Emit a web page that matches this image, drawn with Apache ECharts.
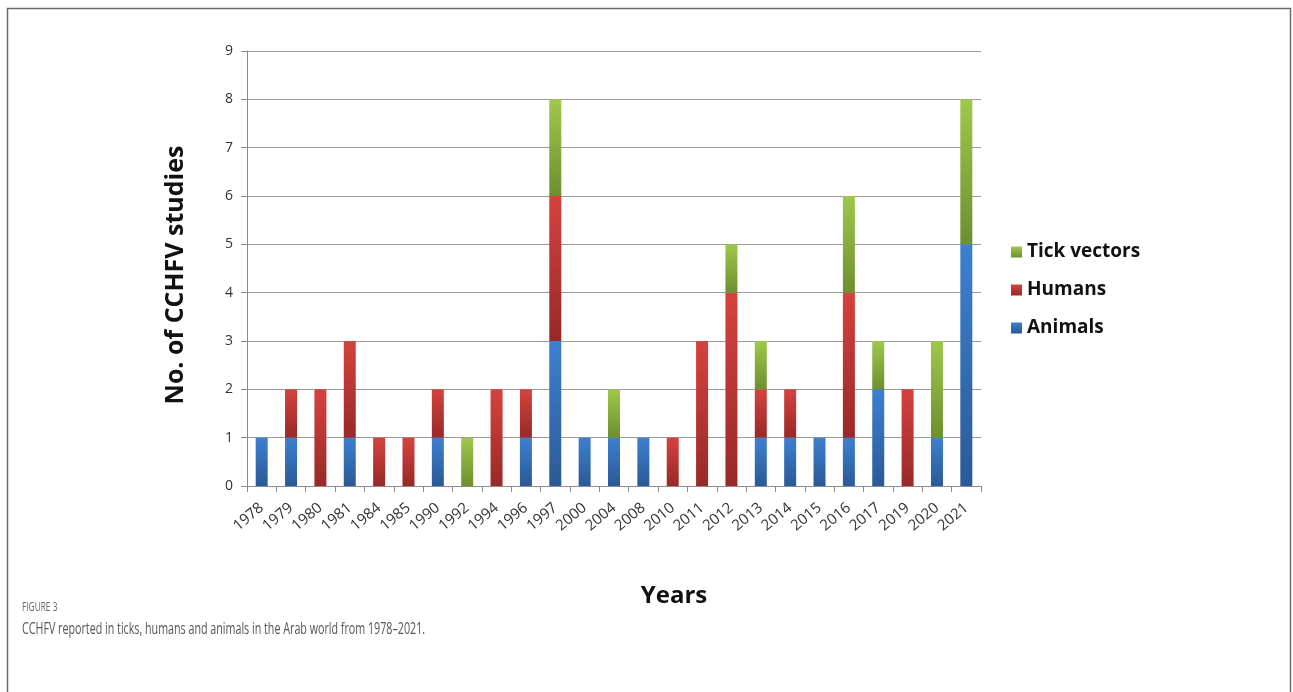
<!DOCTYPE html>
<html>
<head>
<meta charset="utf-8">
<script src="https://cdn.jsdelivr.net/npm/echarts@6/dist/echarts.min.js"></script>
<style>
  html, body { margin: 0; padding: 0; background: #fff; }
  #chart { width: 1293px; height: 692px; }
</style>
</head>
<body>
<div id="chart"></div>
<script>
// Study years and counts per source of CCHFV detection
const years = ['1978','1979','1980','1981','1984','1985','1990','1992','1994','1996','1997','2000','2004','2008','2010','2011','2012','2013','2014','2015','2016','2017','2019','2020','2021'];
const animals = [1,1,0,1,0,0,1,0,0,1,3,1,1,1,0,0,0,1,1,1,1,2,0,1,5];
const humans  = [0,1,2,2,1,1,1,0,2,1,3,0,0,0,1,3,4,1,1,0,3,0,2,0,0];
const ticks   = [0,0,0,0,0,0,0,1,0,0,2,0,1,0,0,0,1,1,0,0,2,1,0,2,3];
const yTicks  = [0,1,2,3,4,5,6,7,8,9];

function shade(top, bottom) {
  return new echarts.graphic.LinearGradient(0, 0, 0, 1, [
    { offset: 0, color: top },
    { offset: 1, color: bottom }
  ]);
}

function stackSeries(name, values, top, bottom) {
  return {
    name: name,
    type: 'bar',
    stack: 'total',
    barWidth: 12,
    data: values.map(v => v === 0 ? null : v),
    itemStyle: { color: shade(top, bottom) },
    emphasis: { disabled: true }
  };
}

const chart = echarts.init(document.getElementById('chart'), null, { renderer: 'canvas' });

chart.setOption({
  animation: false,
  backgroundColor: '#ffffff',
  grid: { left: 247, right: 312, top: 51, bottom: 206, containLabel: false },
  legend: {
    data: ['Tick vectors', 'Humans', 'Animals'],
    orient: 'vertical',
    left: 1006,
    top: 236,
    itemWidth: 11,
    itemHeight: 11,
    itemGap: 16,
    icon: 'rect',
    textStyle: { fontFamily: 'Open Sans', fontWeight: 'bold', fontSize: 19, color: '#111', lineHeight: 22 }
  },
  xAxis: {
    type: 'category',
    data: years,
    boundaryGap: true,
    axisLine: { lineStyle: { color: '#8c8c8c', width: 1 } },
    axisTick: { show: true, alignWithLabel: false, length: 6, lineStyle: { color: '#8c8c8c' } },
    axisLabel: {
      rotate: 40,
      interval: 0,
      margin: 20,
      fontFamily: 'Open Sans',
      fontSize: 15,
      color: '#333'
    }
  },
  yAxis: {
    type: 'value',
    min: 0,
    max: 9,
    interval: 1,
    axisLine: { show: true, lineStyle: { color: '#8c8c8c' } },
    axisTick: { show: true, inside: false, length: 6, lineStyle: { color: '#8c8c8c' } },
    splitLine: { lineStyle: { color: '#9a9a9a', width: 1 } },
    axisLabel: {
      margin: 14,
      fontFamily: 'Open Sans',
      fontSize: 14,
      color: '#333',
      formatter: v => yTicks.includes(v) ? String(v) : ''
    }
  },
  series: [
    stackSeries('Animals', animals, '#3d80d0', '#2a5a97'),
    stackSeries('Humans', humans, '#d6423e', '#982927'),
    stackSeries('Tick vectors', ticks, '#9fc84b', '#6d8f2e')
  ],
  graphic: [
    {
      type: 'rect',
      shape: { x: 7.5, y: 8.5, width: 1283, height: 720 },
      style: { fill: 'none', stroke: '#6a6a6a', lineWidth: 1.5 },
      silent: true
    },
    {
      type: 'text',
      x: 176, y: 275,
      rotation: Math.PI / 2,
      style: {
        text: 'No. of CCHFV studies',
        x: 0, y: 0,
        textAlign: 'center',
        textVerticalAlign: 'middle',
        font: 'bold 25px "Open Sans"',
        fill: '#111'
      }
    },
    {
      type: 'text',
      x: 674, y: 596,
      style: {
        text: 'Years',
        x: 0, y: 0,
        textAlign: 'center',
        textVerticalAlign: 'middle',
        font: 'bold 24px "Open Sans"',
        fill: '#111'
      }
    },
    {
      type: 'text',
      x: 22, y: 607,
      scaleX: 0.64,
      style: {
        text: 'FIGURE 3',
        x: 0, y: 0,
        textVerticalAlign: 'middle',
        font: '13px "Open Sans"',
        fill: '#666'
      }
    },
    {
      type: 'text',
      x: 22, y: 629,
      scaleX: 0.63,
      style: {
        text: 'CCHFV reported in ticks, humans and animals in the Arab world from 1978\u20132021.',
        x: 0, y: 0,
        textVerticalAlign: 'middle',
        font: '17px "Open Sans"',
        fill: '#555'
      }
    }
  ]
});
</script>
</body>
</html>
